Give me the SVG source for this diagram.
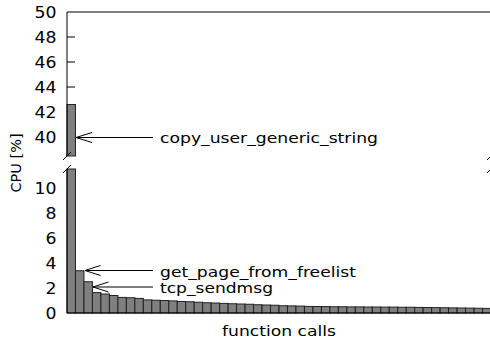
<svg xmlns="http://www.w3.org/2000/svg" width="490" height="341" viewBox="0 0 490 341">
<style>
text{font-family:"DejaVu Sans","Liberation Sans",sans-serif;font-size:14.5px;fill:#000}
.tl{text-anchor:end;font-size:15px}
.bar{fill:#7f7f7f;stroke:#222;stroke-width:1}
.sp{stroke:#000;stroke-width:1;fill:none}
.tk{stroke:#000;stroke-width:1}
.ar{stroke:#000;stroke-width:1;fill:none}
</style>
<rect width="490" height="341" fill="#fff"/>
<g id="ticks">
<path class="tk" d="M67,37h8M67,62h8M67,87h8M67,112h8M67,137h8M67,188h8M67,213h8M67,238h8M67,263h8M67,288h8"/>
</g>
<g id="bars-top">
<rect class="bar" x="67" y="104.5" width="8.48" height="51.5"/>
</g>
<g id="bars-bottom">
<rect class="bar" x="67" y="169" width="8.48" height="144"/>
<rect class="bar" x="75.48" y="270.75" width="8.48" height="42.25"/>
<rect class="bar" x="83.96" y="281.75" width="8.48" height="31.25"/>
<rect class="bar" x="92.44" y="292.6" width="8.48" height="20.4"/>
<rect class="bar" x="100.92" y="294" width="8.48" height="19"/>
<rect class="bar" x="109.4" y="295.5" width="8.48" height="17.5"/>
<rect class="bar" x="117.88" y="297.4" width="8.48" height="15.6"/>
<rect class="bar" x="126.36" y="297.75" width="8.48" height="15.25"/>
<rect class="bar" x="134.84" y="298.4" width="8.48" height="14.6"/>
<rect class="bar" x="143.32" y="299.9" width="8.48" height="13.1"/>
<rect class="bar" x="151.8" y="300.25" width="8.48" height="12.75"/>
<rect class="bar" x="160.28" y="300.5" width="8.48" height="12.5"/>
<rect class="bar" x="168.76" y="300.9" width="8.48" height="12.1"/>
<rect class="bar" x="177.24" y="301.5" width="8.48" height="11.5"/>
<rect class="bar" x="185.72" y="301.75" width="8.48" height="11.25"/>
<rect class="bar" x="194.2" y="302.25" width="8.48" height="10.75"/>
<rect class="bar" x="202.68" y="302.75" width="8.48" height="10.25"/>
<rect class="bar" x="211.16" y="303" width="8.48" height="10"/>
<rect class="bar" x="219.64" y="303.4" width="8.48" height="9.6"/>
<rect class="bar" x="228.12" y="303.75" width="8.48" height="9.25"/>
<rect class="bar" x="236.6" y="304" width="8.48" height="9"/>
<rect class="bar" x="245.08" y="304.25" width="8.48" height="8.75"/>
<rect class="bar" x="253.56" y="304.75" width="8.48" height="8.25"/>
<rect class="bar" x="262.04" y="305" width="8.48" height="8"/>
<rect class="bar" x="270.52" y="305.25" width="8.48" height="7.75"/>
<rect class="bar" x="279" y="305.75" width="8.48" height="7.25"/>
<rect class="bar" x="287.48" y="305.9" width="8.48" height="7.1"/>
<rect class="bar" x="295.96" y="306.1" width="8.48" height="6.9"/>
<rect class="bar" x="304.44" y="306.4" width="8.48" height="6.6"/>
<rect class="bar" x="312.92" y="306.5" width="8.48" height="6.5"/>
<rect class="bar" x="321.4" y="306.6" width="8.48" height="6.4"/>
<rect class="bar" x="329.88" y="306.75" width="8.48" height="6.25"/>
<rect class="bar" x="338.36" y="306.75" width="8.48" height="6.25"/>
<rect class="bar" x="346.84" y="306.9" width="8.48" height="6.1"/>
<rect class="bar" x="355.32" y="306.9" width="8.48" height="6.1"/>
<rect class="bar" x="363.8" y="307" width="8.48" height="6"/>
<rect class="bar" x="372.28" y="307" width="8.48" height="6"/>
<rect class="bar" x="380.76" y="307.1" width="8.48" height="5.9"/>
<rect class="bar" x="389.24" y="307.1" width="8.48" height="5.9"/>
<rect class="bar" x="397.72" y="307.25" width="8.48" height="5.75"/>
<rect class="bar" x="406.2" y="307.25" width="8.48" height="5.75"/>
<rect class="bar" x="414.68" y="307.4" width="8.48" height="5.6"/>
<rect class="bar" x="423.16" y="307.5" width="8.48" height="5.5"/>
<rect class="bar" x="431.64" y="307.6" width="8.48" height="5.4"/>
<rect class="bar" x="440.12" y="307.75" width="8.48" height="5.25"/>
<rect class="bar" x="448.6" y="307.9" width="8.48" height="5.1"/>
<rect class="bar" x="457.08" y="308" width="8.48" height="5"/>
<rect class="bar" x="465.56" y="308.1" width="8.48" height="4.9"/>
<rect class="bar" x="474.04" y="308.25" width="8.48" height="4.75"/>
<rect class="bar" x="482.52" y="308.4" width="8.48" height="4.6"/>
</g>
<g id="axes">
<path class="sp" d="M67,156V12H492"/>
<path class="sp" d="M67,169V313H492"/>
<path class="sp" d="M63,160L71,152M63,173L71,165M487,160L495,152M487,173L495,165"/>
<text class="tl" x="56.5" y="17.5" textLength="22" lengthAdjust="spacingAndGlyphs">50</text>
<text class="tl" x="56.5" y="42.5" textLength="22" lengthAdjust="spacingAndGlyphs">48</text>
<text class="tl" x="56.5" y="67.5" textLength="22" lengthAdjust="spacingAndGlyphs">46</text>
<text class="tl" x="56.5" y="92.5" textLength="22" lengthAdjust="spacingAndGlyphs">44</text>
<text class="tl" x="56.5" y="117.5" textLength="22" lengthAdjust="spacingAndGlyphs">42</text>
<text class="tl" x="56.5" y="142.5" textLength="22" lengthAdjust="spacingAndGlyphs">40</text>
<text class="tl" x="56.5" y="193.5" textLength="22" lengthAdjust="spacingAndGlyphs">10</text>
<text class="tl" x="56.5" y="218.5" textLength="11" lengthAdjust="spacingAndGlyphs">8</text>
<text class="tl" x="56.5" y="243.5" textLength="11" lengthAdjust="spacingAndGlyphs">6</text>
<text class="tl" x="56.5" y="268.5" textLength="11" lengthAdjust="spacingAndGlyphs">4</text>
<text class="tl" x="56.5" y="293.5" textLength="11" lengthAdjust="spacingAndGlyphs">2</text>
<text class="tl" x="56.5" y="318.5" textLength="11" lengthAdjust="spacingAndGlyphs">0</text>
<text x="279" y="336" text-anchor="middle" textLength="114" lengthAdjust="spacingAndGlyphs">function calls</text>
<text transform="translate(21,163) rotate(-90)" text-anchor="middle" style="font-size:14.5px">CPU [%]</text>
</g>
<g id="connectors">
<path class="ar" d="M76,137.5H153M92,132.5L76,137.5L92,142.5"/>
<path class="ar" d="M85,270.5H153M100.5,265.5L85,270.5L100.5,275.5"/>
<path class="ar" d="M93,287H153M108.5,282L93,287L108.5,292"/>
</g>
<g id="label-copy"><text x="160" y="143.3" textLength="218" lengthAdjust="spacingAndGlyphs">copy_user_generic_string</text></g>
<g id="label-getpage"><text x="160" y="276.5" textLength="196" lengthAdjust="spacingAndGlyphs">get_page_from_freelist</text></g>
<g id="label-tcp"><text x="160" y="292.5" textLength="113" lengthAdjust="spacingAndGlyphs">tcp_sendmsg</text></g>
</svg>
